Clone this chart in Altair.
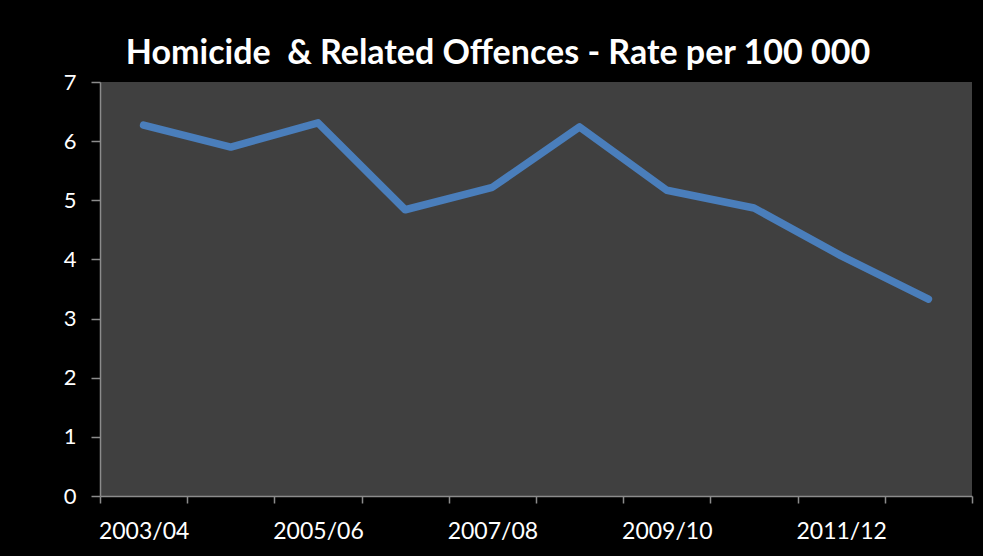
import altair as alt
import pandas as pd
import json

years = ["2003/04", "2004/05", "2005/06", "2006/07", "2007/08",
         "2008/09", "2009/10", "2010/11", "2011/12", "2012/13"]
rates = [6.27, 5.90, 6.31, 4.84, 5.22, 6.24, 5.17, 4.87, 4.06, 3.33]
shown_labels = ["2003/04", "2005/06", "2007/08", "2009/10", "2011/12"]

df = pd.DataFrame({"year": years, "rate": rates})

FONT = "Lato"
label_expr = "indexof(%s, datum.value) >= 0 ? datum.label : ''" % json.dumps(shown_labels)

chart = alt.Chart(df).mark_line(
    color="#4A7EBB", strokeWidth=7.5, strokeCap="round", strokeJoin="round"
).encode(
    x=alt.X("year:N", sort=years, bandPosition=0.5,
            scale=alt.Scale(type="band", paddingInner=0, paddingOuter=0),
            axis=alt.Axis(title=None, labelAngle=0, tickBand="extent",
                          labelExpr=label_expr,
                          labelFontSize=23, labelPadding=17, tickSize=7)),
    y=alt.Y("rate:Q", scale=alt.Scale(domain=[0, 7], nice=False),
            axis=alt.Axis(title=None, values=[0, 1, 2, 3, 4, 5, 6, 7], grid=False,
                          labelFontSize=22, labelPadding=15, tickSize=9)),
).properties(
    width=872, height=414,
    autosize=alt.AutoSizeParams(type="none"),
    padding={"left": 100, "top": 82, "right": 11, "bottom": 60},
    background="#000000",
    title=alt.TitleParams("Homicide \u00a0& Related Offences - Rate per 100 000",
                          font=FONT, fontSize=34, fontWeight="bold", color="white",
                          anchor="middle", dx=-38, offset=0),
).configure_view(
    fill="#404040", stroke=None
).configure_axis(
    labelColor="white", labelFont=FONT, domainColor="#8C8C8C", tickColor="#8C8C8C",
    domainWidth=1.5, tickWidth=1.5
)

chart.save("out.html", embed_options={"renderer": "svg", "actions": False})
